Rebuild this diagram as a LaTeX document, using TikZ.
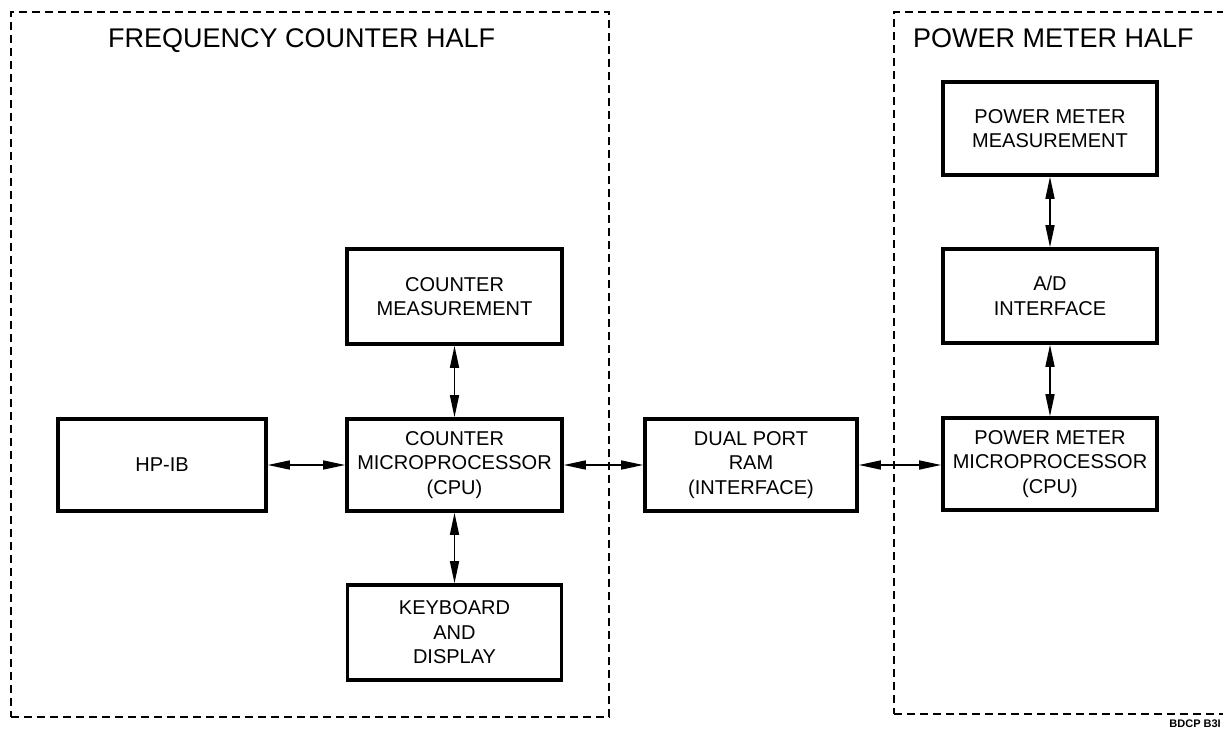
\documentclass[tikz,border=0pt]{standalone}
\usepackage{fontspec}
\setmainfont{Liberation Sans}
\usetikzlibrary{arrows.meta}
\begin{document}
\begin{tikzpicture}[x=1pt,y=-1pt,
  blk/.style={draw=black,line width=3.6pt,fill=white,inner sep=0pt,align=center,
    font=\fontsize{20}{24.5}\selectfont},
  frame/.style={draw=black,line width=1.3pt,dash pattern=on 8pt off 5pt,inner sep=0pt},
  title/.style={font=\fontsize{27}{30}\selectfont,inner sep=0pt,anchor=base west},
  link/.style={line width=1.5pt,arrows={Triangle[length=22pt,width=9pt]-Triangle[length=22pt,width=9pt]}}]
\useasboundingbox (0,0) rectangle (1223,731);
% frames
\node[frame,minimum width=598pt,minimum height=705pt] (lf) at (310,364.5) {};
\node[frame,minimum width=341pt,minimum height=702pt] (rf) at (1064.5,363) {};
\node[title] (lt) at (108,47) {FREQUENCY COUNTER HALF};
\node[title] (rt) at (913,47) {POWER METER HALF};
% blocks
\node[blk,minimum width=208pt,minimum height=92pt] (hpib) at (162,465) {HP-IB};
\node[blk,minimum width=215pt,minimum height=92pt] (ccpu) at (454.5,465) {COUNTER\\MICROPROCESSOR\\(CPU)};
\node[blk,minimum width=215pt,minimum height=95pt] (cmeas) at (454.5,296.5) {COUNTER\\MEASUREMENT};
\node[blk,minimum width=214pt,minimum height=95pt] (kbd) at (454.5,632.5) {KEYBOARD\\AND\\DISPLAY};
\node[blk,minimum width=212pt,minimum height=92pt] (dpr) at (751,465) {DUAL PORT\\RAM\\(INTERFACE)};
\node[blk,minimum width=214pt,minimum height=92pt] (pcpu) at (1050,464) {POWER METER\\MICROPROCESSOR\\(CPU)};
\node[blk,minimum width=214pt,minimum height=94pt] (ad) at (1050,296) {A/D\\INTERFACE};
\node[blk,minimum width=214pt,minimum height=93pt] (pmeas) at (1050,128.5) {POWER METER\\MEASUREMENT};
% connectors
\draw[link] (hpib.east) -- (ccpu.west);
\draw[link] (ccpu.east) -- (dpr.west);
\draw[link] (dpr.east) -- (pcpu.west |- dpr.east);
\draw[link] (cmeas.south) -- (ccpu.north);
\draw[link] (ccpu.south) -- (kbd.north);
\draw[link] (pmeas.south) -- (ad.north);
\draw[link] (ad.south) -- (pcpu.north);
% tag
\node[anchor=north east,inner sep=0pt,font=\fontsize{11}{11}\selectfont\bfseries] (tag) at (1221,720) {BDCP B3I};
\end{tikzpicture}
\end{document}
